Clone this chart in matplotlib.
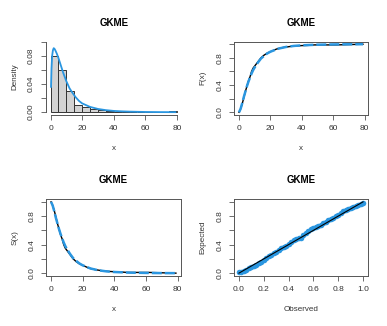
import matplotlib
matplotlib.use("Agg")
import matplotlib.pyplot as plt
import numpy as np

plt.rcParams['font.family'] = ['Liberation Sans', 'DejaVu Sans']

# histogram (bins of width 5 from 0 to 80), density heights
bin_edges = [0, 5, 10, 15, 20, 25, 30, 35, 40, 45, 50, 55, 60, 65, 70, 75, 80]
bin_density = [0.080, 0.060, 0.0305, 0.0105, 0.0067, 0.0048, 0.0029, 0.0010,
               0.0005, 0.0019, 0.0, 0.0, 0.0, 0.0, 0.0, 0.0019]

# fitted GKME density
dens_x = [0.3, 0.6, 1.0, 1.5, 2.0, 2.5, 3.0, 4.0, 5.0, 6.0, 7.0, 8.0, 10.0,
          12.0, 14.0, 16.0, 18.0, 20.0, 25.0, 30.0, 35.0, 40.0, 45.0, 50.0,
          60.0, 70.0, 79.0]
dens_y = [0.036, 0.062, 0.080, 0.088, 0.091, 0.090, 0.088, 0.083, 0.077,
          0.070, 0.063, 0.056, 0.044, 0.034, 0.027, 0.021, 0.016, 0.0125,
          0.0075, 0.0046, 0.0029, 0.0018, 0.0012, 0.0008, 0.0003, 0.0001,
          0.00005]

# empirical CDF
emp_x = [0, 1, 2, 3, 4, 5, 6, 7, 8, 9, 10, 11, 12, 13, 14, 15, 16, 17, 18,
         20, 22, 24, 26, 28, 30, 32, 34, 36, 40, 44, 48, 55, 62, 70, 79]
emp_F = [0.0, 0.05, 0.12, 0.21, 0.30, 0.38, 0.46, 0.52, 0.60, 0.65, 0.68,
         0.71, 0.74, 0.77, 0.80, 0.82, 0.84, 0.855, 0.87, 0.89, 0.91, 0.93,
         0.94, 0.952, 0.958, 0.965, 0.97, 0.975, 0.98, 0.983, 0.99, 0.99,
         0.99, 0.995, 1.0]

# fitted CDF
fit_x = [0, 1, 2, 3, 4, 5, 6, 7, 8, 9, 10, 12, 14, 16, 18, 20, 25, 30, 35,
         40, 50, 60, 70, 79]
fit_F = [0.0, 0.05, 0.13, 0.22, 0.30, 0.38, 0.45, 0.51, 0.57, 0.62, 0.66,
         0.73, 0.79, 0.83, 0.865, 0.89, 0.935, 0.96, 0.975, 0.984, 0.993,
         0.997, 0.999, 1.0]

# P-P plot
pp_obs = [0.00, 0.02, 0.04, 0.06, 0.08, 0.10, 0.12, 0.14, 0.16, 0.18, 0.20,
          0.22, 0.24, 0.26, 0.28, 0.30, 0.32, 0.34, 0.36, 0.38, 0.40, 0.42,
          0.44, 0.46, 0.48, 0.50, 0.52, 0.54, 0.56, 0.58, 0.60, 0.62, 0.64,
          0.66, 0.68, 0.70, 0.72, 0.74, 0.76, 0.78, 0.80, 0.82, 0.84, 0.86,
          0.88, 0.90, 0.92, 0.94, 0.96, 0.98, 1.00]
pp_exp = [0.01, 0.02, 0.035, 0.05, 0.07, 0.09, 0.10, 0.12, 0.14, 0.16, 0.18,
          0.21, 0.235, 0.25, 0.28, 0.30, 0.325, 0.35, 0.37, 0.385, 0.41,
          0.44, 0.46, 0.48, 0.49, 0.50, 0.53, 0.56, 0.59, 0.615, 0.635, 0.65,
          0.665, 0.68, 0.70, 0.715, 0.745, 0.765, 0.78, 0.80, 0.815, 0.84,
          0.865, 0.88, 0.895, 0.91, 0.925, 0.94, 0.955, 0.975, 0.99]

blue = '#2a96e0'
W, H = 387, 326
fig = plt.figure(figsize=(W / 100, H / 100), dpi=100)


def box(x0, x1, y0, y1):
    # pixel box (top-left origin) -> axes
    return fig.add_axes([x0 / W, 1 - y1 / H, (x1 - x0) / W, (y1 - y0) / H])


def style(ax, title, xlabel, ylabel, tpad=11.5):
    ax.set_title(title, fontsize=7, fontweight='bold', pad=tpad)
    ax.set_xlabel(xlabel, fontsize=5.8, labelpad=9, color='#333333')
    ax.set_ylabel(ylabel, fontsize=5.8, labelpad=7, color='#333333')
    ax.tick_params(direction='out', length=3.5, width=0.6, labelsize=6,
                   color='#555555', labelcolor='#333333', pad=4)
    for lab in ax.get_yticklabels():
        lab.set_rotation(90)
        lab.set_va('center')
    for s in ax.spines.values():
        s.set_linewidth(0.7)
        s.set_color('#555555')


# top-left: histogram with density
ax1 = box(45.5, 182, 39, 115)
ax1.bar(bin_edges[:-1], bin_density, width=np.diff(bin_edges), align='edge',
        color='#d3d3d3', edgecolor='#333333', linewidth=0.7)
ax1.plot(dens_x, dens_y, color=blue, lw=1.3)
ax1.set_xlim(-3.2, 83.2)
ax1.set_ylim(-0.004, 0.104)
ax1.set_xticks([0, 20, 40, 60, 80])
ax1.set_yticks([0, 0.02, 0.04, 0.06, 0.08, 0.10])
ax1.set_yticklabels(['0.00', '', '0.04', '', '0.08', ''])
ax1.spines['top'].set_visible(False)
ax1.spines['right'].set_visible(False)
ax1.spines['left'].set_bounds(0, 0.10)
ax1.spines['bottom'].set_bounds(0, 80)
style(ax1, 'GKME', 'x', 'Density', tpad=9.5)

# top-right: CDF
ax2 = box(234, 368, 41.5, 115)
ax2.plot(emp_x, emp_F, color='black', lw=1.0)
ax2.plot(fit_x, fit_F, color=blue, lw=1.8, dashes=(4, 1.2))
ax2.set_xlim(-3.2, 82.2)
ax2.set_ylim(-0.04, 1.04)
ax2.set_xticks([0, 20, 40, 60, 80])
ax2.set_yticks([0, 0.2, 0.4, 0.6, 0.8, 1.0])
ax2.set_yticklabels(['0.0', '', '0.4', '', '0.8', ''])
style(ax2, 'GKME', 'x', 'F(x)')

# bottom-left: survival
ax3 = box(46, 181, 199, 276)
ax3.plot(emp_x, 1 - np.array(emp_F), color='black', lw=1.0)
ax3.plot(fit_x, 1 - np.array(fit_F), color=blue, lw=1.8, dashes=(4, 1.2))
ax3.set_xlim(-3.2, 82.2)
ax3.set_ylim(-0.04, 1.04)
ax3.set_xticks([0, 20, 40, 60, 80])
ax3.set_yticks([0, 0.2, 0.4, 0.6, 0.8, 1.0])
ax3.set_yticklabels(['0.0', '', '0.4', '', '0.8', ''])
style(ax3, 'GKME', 'x', 'S(x)')

# bottom-right: P-P plot
ax4 = box(234, 368, 199, 276)
ax4.plot(pp_obs, pp_exp, 'o', color=blue, ms=4, mew=0)
ax4.plot([0, 1], [0, 1], color='black', lw=0.8)
ax4.set_xlim(-0.04, 1.04)
ax4.set_ylim(-0.04, 1.04)
ax4.set_xticks([0, 0.2, 0.4, 0.6, 0.8, 1.0])
ax4.set_xticklabels(['0.0', '0.2', '0.4', '0.6', '0.8', '1.0'])
ax4.set_yticks([0, 0.2, 0.4, 0.6, 0.8, 1.0])
ax4.set_yticklabels(['0.0', '', '0.4', '', '0.8', ''])
style(ax4, 'GKME', 'Observed', 'Expected')

fig.savefig('out.png', dpi=100)
